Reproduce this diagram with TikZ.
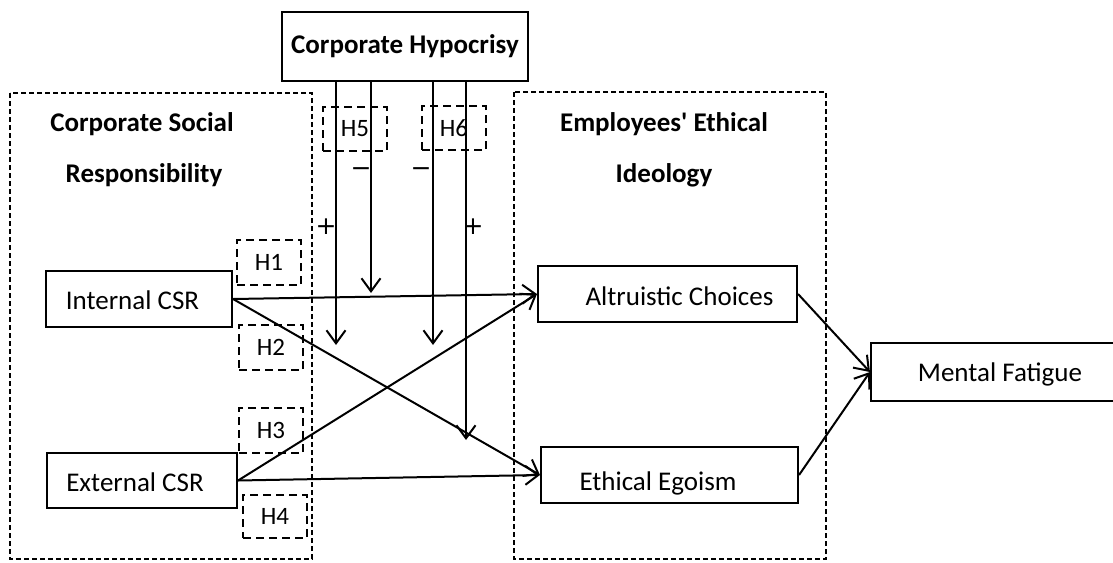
\documentclass[tikz,border=0pt]{standalone}
\usepackage{fontspec}
\setmainfont{Carlito}[Ligatures=TeXOff]
\newfontfamily\signfont{DejaVu Sans}
\usetikzlibrary{arrows.meta}
\tikzset{
  box/.style={draw, line width=2.1pt, inner sep=0pt},
  lbl/.style={font=\fontsize{27}{32}\selectfont, inner sep=0pt},
  ttl/.style={font=\fontsize{27}{32}\selectfont\bfseries, inner sep=0pt},
  hbox/.style={draw, line width=2.2pt, dash pattern=on 8pt off 5pt, inner sep=0pt,
    minimum width=64pt, minimum height=45pt, font=\fontsize{25}{28}\selectfont},
  group/.style={draw, line width=1.5pt, dash pattern=on 5pt off 3pt},
  arr/.style={line width=2pt, -{Straight Barb[length=13pt,width=19pt]}},
  sgn/.style={font=\signfont\fontsize{25}{28}\selectfont, inner sep=0pt},
}
\begin{document}
\begin{tikzpicture}[x=1pt,y=-1pt]
\useasboundingbox (0,0) rectangle (1113,562);
\clip (0,0) rectangle (1113,562);
\fill[white] (0,0) rectangle (1113,562);

% group frames
\draw[group] (10,93) rectangle (312,559);
\draw[group] (514,92) rectangle (826,559);
\node[ttl] (csrt1) at (142,124) {Corporate Social};
\node[ttl] (csrt2) at (144,175) {Responsibility};
\node[ttl] (eet1) at (664,124) {Employees' Ethical};
\node[ttl] (eet2) at (664,175) {Ideology};

% main boxes
\node[box, minimum width=246pt, minimum height=69pt, ttl] (hyp) at (405,46.5) {Corporate Hypocrisy};
\node[box, minimum width=186pt, minimum height=56pt] (icsr) at (139,299) {};
\node[lbl] (icsrl) at (132.5,300) {Internal CSR};
\node[box, minimum width=190pt, minimum height=55pt] (ecsr) at (142,480.5) {};
\node[lbl] (ecsrl) at (135,482) {External CSR};
\node[box, minimum width=259pt, minimum height=56pt] (alt) at (667.5,294) {};
\node[lbl] (altl) at (679.5,296) {Altruistic Choices};
\node[box, minimum width=257pt, minimum height=56pt] (ego) at (669.5,475) {};
\node[lbl] (egol) at (658,483) {Ethical Egoism};
\node[box, minimum width=300pt, minimum height=58pt] (mf) at (1021,372) {};
\node[lbl] (mfl) at (1000,374) {Mental Fatigue};

% hypothesis labels
\node[hbox] (h1) at (269,262.5) {H1};
\node[hbox] (h2) at (271,347.5) {H2};
\node[hbox] (h3) at (271,430.5) {H3};
\node[hbox, minimum height=43pt] (h4) at (275,516.5) {H4};
\node[hbox, minimum height=44pt] (h5) at (355,129) {H5};
\node[hbox, minimum height=44pt] (h6) at (454,128) {H6};

% direct paths
\draw[arr] (icsr.east) -- (alt.west);
\draw[arr] (icsr.east) -- (ego.west);
\draw[arr] (ecsr.east) -- (alt.west);
\draw[arr] (ecsr.east) -- (ego.west);
\draw[arr] (alt.east) -- (mf.west);
\draw[arr] (ego.east) -- (mf.west);

% moderation
\coordinate (v1) at (336,345);
\coordinate (v2) at (371,293);
\coordinate (v3) at (433,345);
\coordinate (v4) at (466,440);
\draw[arr] (hyp.south -| v1) -- (v1);
\draw[arr] (hyp.south -| v2) -- (v2);
\draw[arr] (hyp.south -| v3) -- (v3);
\draw[arr] (hyp.south -| v4) -- (v4);

\node[sgn] (s1) at (326,227) {+};
\node[sgn] (s2) at (361,172) {−};
\node[sgn] (s3) at (421,172) {−};
\node[sgn] (s4) at (473,227) {+};
\end{tikzpicture}
\end{document}
